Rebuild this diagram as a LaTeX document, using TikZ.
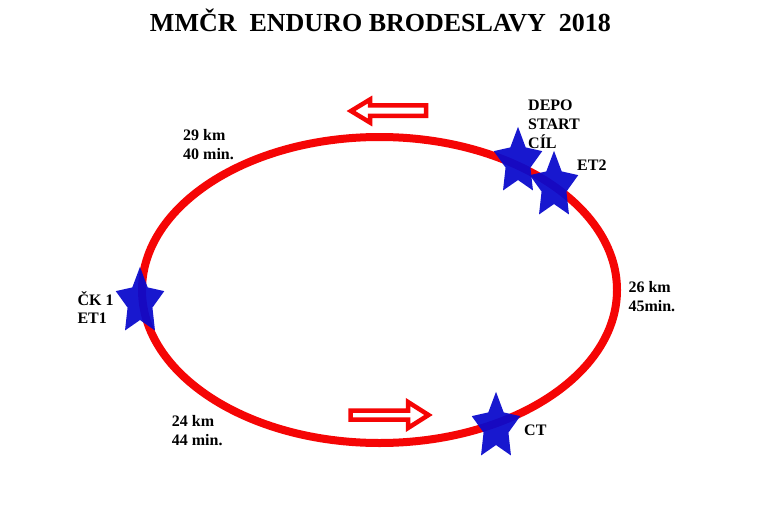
\documentclass[tikz,border=0pt]{standalone}
\usepackage{fontspec}
\setmainfont{Liberation Serif}
\usetikzlibrary{shapes.geometric}
\definecolor{ringred}{RGB}{245,5,5}
\definecolor{starblue}{RGB}{10,10,205}
\begin{document}
\begin{tikzpicture}[x=1pt,y=-1pt,
  lbl/.style={anchor=base west, inner sep=0pt, font=\bfseries\fontsize{16}{18.5}\selectfont},
  ttl/.style={anchor=base, inner sep=0pt, font=\bfseries\fontsize{26}{30}\selectfont},
  starmark/.style={star, star points=5, star point ratio=1.95, fill=starblue, fill opacity=0.94, draw=none, minimum size=51pt, inner sep=0pt, transform shape},
  ring/.style={draw=ringred, line width=8pt},
  flow/.style={draw=ringred, line width=4.5pt, fill=white, line join=miter}]
\useasboundingbox (0,0) rectangle (765,532);
\fill[white] (0,0) rectangle (765,532);

\node[ttl] (title) at (380.5,31.7) {MMČR\ \ ENDURO BRODESLAVY\ \ 2018};

\draw[ring] (379.5,290) ellipse [x radius=237.5, y radius=153];

\draw[flow] (351,111) -- (370,99.5) -- (370,105.5) -- (426,105.5) -- (426,116) -- (370,116) -- (370,122.5) -- cycle;
\draw[flow] (350.5,410.5) -- (408,410.5) -- (408,402) -- (428.5,415) -- (408,428) -- (408,419.5) -- (350.5,419.5) -- cycle;

\begin{scope}[shift={(140,302)}, yscale=1.38] \node[starmark] (ck1) {}; \end{scope}
\begin{scope}[shift={(518,162)}, yscale=1.38] \node[starmark] (depo) {}; \end{scope}
\begin{scope}[shift={(554,186)}, yscale=1.38] \node[starmark] (et2) {}; \end{scope}
\begin{scope}[shift={(496,427)}, yscale=1.38] \node[starmark] (ct) {}; \end{scope}

\node[lbl] (l29) at (183,140.7) {\begin{tabular}[t]{@{}l@{}}29 km\\40 min.\end{tabular}};
\node[lbl] (ldepo) at (528,110.7) {\begin{tabular}[t]{@{}l@{}}DEPO\\START\\CÍL\end{tabular}};
\node[lbl] (let2) at (577,170) {ET2};
\node[lbl] (lck1) at (77.3,305) {\begin{tabular}[t]{@{}l@{}}ČK 1\\ET1\end{tabular}};
\node[lbl] (l26) at (628.3,292.7) {\begin{tabular}[t]{@{}l@{}}26 km\\45min.\end{tabular}};
\node[lbl] (l24) at (171.7,426.7) {\begin{tabular}[t]{@{}l@{}}24 km\\44 min.\end{tabular}};
\node[lbl] (lct) at (524,435.7) {CT};
\end{tikzpicture}
\end{document}
